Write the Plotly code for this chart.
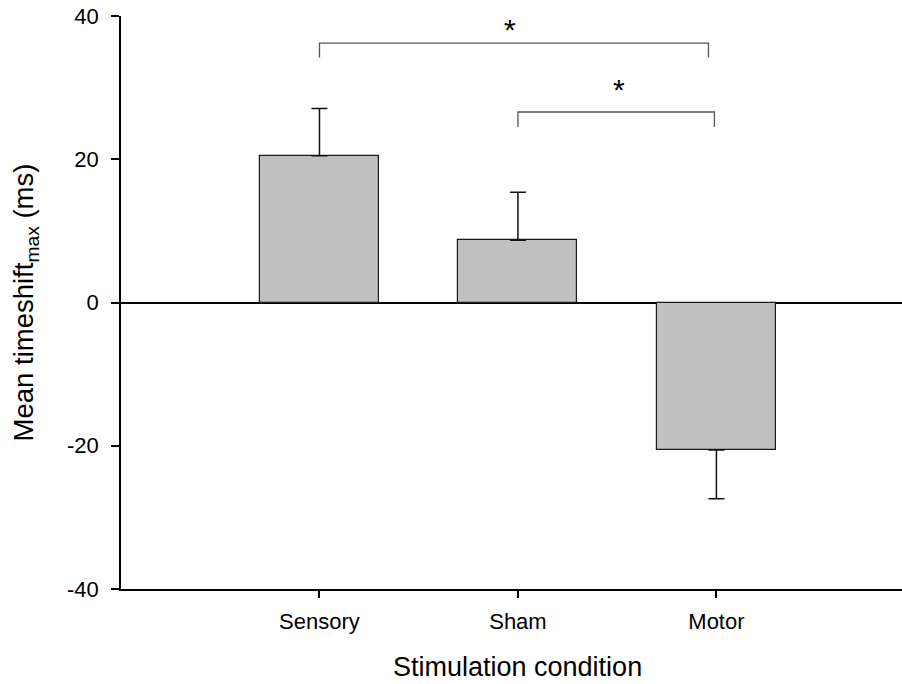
import plotly.graph_objects as go

# Stimulation conditions and mean timeshift (ms) with standard errors
categories = ["Sensory", "Sham", "Motor"]
means = [20.5, 8.7, -20.6]
sem = [6.6, 6.7, 6.8]

# Significance brackets: start/end category position, bracket height, drop of the ends
bracket_x0 = [0.0, 1.0]
bracket_x1 = [1.96, 1.99]
bracket_y = [36.2, 26.6]
bracket_drop = [2.0, 2.1]
# significance marks placed above the brackets
star_x = [0.96, 1.51]
star_y = [39.1, 30.75]
star_label = ["*", "*"]

y_ticks = [-40, -20, 0, 20, 40]
y_ticktext = ["-40", "-20", "0", "20", "40"]

FONT = "Liberation Sans, Arial, sans-serif"

# error bars only extend away from zero
err_up = [s if m > 0 else 0 for m, s in zip(means, sem)]
err_down = [s if m < 0 else 0 for m, s in zip(means, sem)]

fig = go.Figure()
fig.add_trace(go.Bar(
    x=list(range(len(categories))),
    y=means,
    width=0.6,
    marker=dict(color="#c0c0c0", line=dict(color="#1a1a1a", width=1.2)),
    error_y=dict(type="data", symmetric=False, array=err_up, arrayminus=err_down,
                 color="#111111", thickness=1.5, width=8),
    showlegend=False,
    hoverinfo="skip",
))

shapes = []
annotations = []
for x0, x1, y, d in zip(bracket_x0, bracket_x1, bracket_y, bracket_drop):
    shapes.append(dict(
        type="path", xref="x", yref="y",
        path=f"M {x0},{y - d} L {x0},{y} L {x1},{y} L {x1},{y - d}",
        line=dict(color="#555555", width=1.3),
    ))
for sx, sy, lab in zip(star_x, star_y, star_label):
    annotations.append(dict(
        x=sx, y=sy, xref="x", yref="y",
        text=lab, showarrow=False, yanchor="middle", yshift=-7,
        font=dict(family=FONT, size=30, color="black"),
    ))

annotations.append(dict(
    x=1, y=0, xref="x", yref="paper", yshift=-61,
    text="Stimulation condition", showarrow=False, yanchor="top",
    font=dict(family=FONT, size=27, color="black"),
))

fig.update_layout(
    width=902, height=684,
    margin=dict(l=121, r=0, t=16, b=95),
    paper_bgcolor="white", plot_bgcolor="white",
    font=dict(family=FONT, color="black"),
    bargap=0,
    shapes=shapes,
    annotations=annotations,
    xaxis=dict(
        range=[-1, 2.935],
        tickmode="array",
        tickvals=list(range(len(categories))),
        ticktext=categories,
        showline=True, linecolor="black", linewidth=1.5,
        ticks="outside", ticklen=7, tickwidth=1.5, tickcolor="black",
        showgrid=False, zeroline=False,
        tickfont=dict(family=FONT, size=22, color="black"),
        ticklabelstandoff=5,
    ),
    yaxis=dict(
        range=[-40, 40],
        tickmode="array",
        tickvals=y_ticks,
        ticktext=y_ticktext,
        showline=True, linecolor="black", linewidth=1.5,
        ticks="outside", ticklen=8, tickwidth=1.5, tickcolor="black",
        showgrid=False,
        zeroline=True, zerolinecolor="black", zerolinewidth=1.5,
        tickfont=dict(family=FONT, size=22, color="black"),
        ticklabelstandoff=8,
        title=dict(text="Mean timeshift<sub>max</sub> (ms)",
                   font=dict(family=FONT, size=27.5, color="black"), standoff=25),
    ),
)

fig.write_html("out.html")
